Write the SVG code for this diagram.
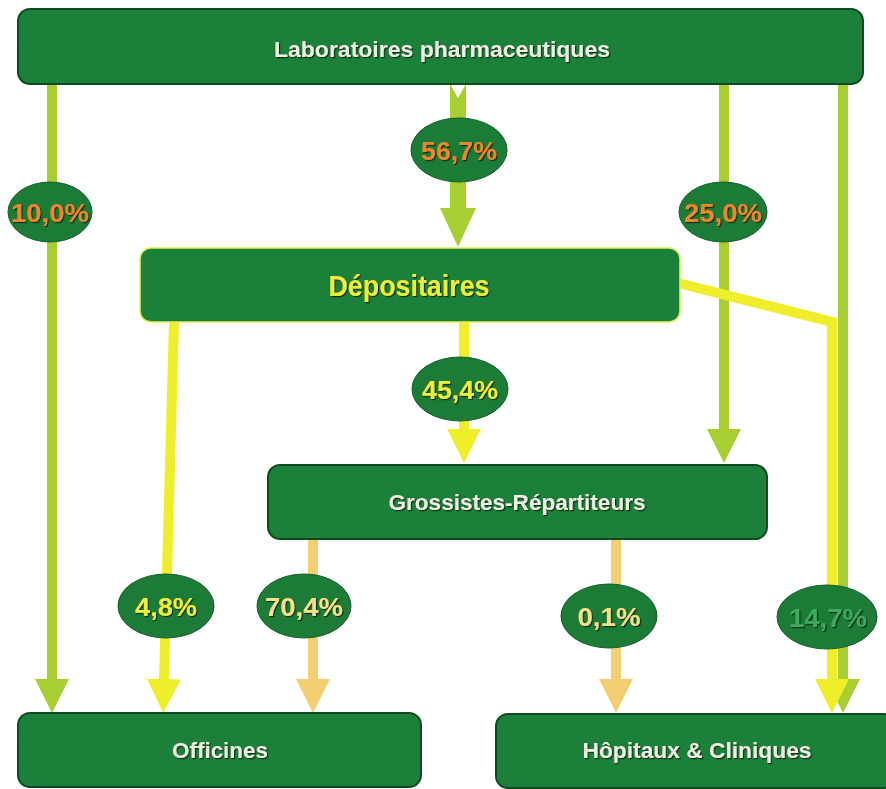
<svg xmlns="http://www.w3.org/2000/svg" width="886" height="789" viewBox="0 0 886 789">
<defs>
<filter id="sh" x="-10%" y="-30%" width="120%" height="160%">
<feDropShadow dx="1.2" dy="1.2" stdDeviation="0.6" flood-color="#0a2a10" flood-opacity="0.9"/>
</filter>
<marker id="ag" viewBox="0 0 34 34" markerWidth="34" markerHeight="34" markerUnits="userSpaceOnUse" refX="1" refY="17" orient="auto"><path d="M0,0 L34,17 L0,34 z" fill="#a8cf32"/></marker>
<marker id="ay" viewBox="0 0 34 34" markerWidth="34" markerHeight="34" markerUnits="userSpaceOnUse" refX="1" refY="17" orient="auto"><path d="M0,0 L34,17 L0,34 z" fill="#eeee2a"/></marker>
<marker id="ap" viewBox="0 0 34 34" markerWidth="34" markerHeight="34" markerUnits="userSpaceOnUse" refX="1" refY="17" orient="auto"><path d="M0,0 L34,17 L0,34 z" fill="#f4cf72"/></marker>
</defs>
<style>
.box{fill:#1b8039;stroke:#0e4a1f;stroke-width:2}
.dep{fill:#1b8039;stroke:#e4ee5a;stroke-width:1.6}
.lbl{fill:#1b7b37;stroke:#146129;stroke-width:1}
.t{font-family:"Liberation Sans Narrow","Liberation Sans",Arial,sans-serif;font-weight:bold;text-anchor:middle;filter:url(#sh)}
.tw{fill:#eef0e4;font-size:22px}
.pc{font-size:26px}
.or{fill:#f0862a}
.ye{fill:#eeee3a}
.pe{fill:#f6e08a}
.gr{fill:#3fa95e}
.lg{stroke:#a8cf32;stroke-width:10;fill:none}
.ly{stroke:#eeee2a;stroke-width:10;fill:none}
.lp{stroke:#f4cf72;stroke-width:10;fill:none}
</style>
<g id="connectors">
<line class="lg" x1="52" y1="84" x2="52" y2="680" marker-end="url(#ag)"/>
<polygon points="450,84 458,98 466,84 466,208 476,208 458,247 440,208 450,208" fill="#a8cf32"/>
<line class="lg" x1="724" y1="84" x2="724" y2="430" marker-end="url(#ag)"/>
<line class="lg" x1="843" y1="84" x2="843" y2="680" marker-end="url(#ag)"/>
<line class="ly" x1="464" y1="322" x2="464" y2="430" marker-end="url(#ay)"/>
<polyline class="ly" points="678,283 832,322 832,680" marker-end="url(#ay)"/>
<line class="ly" x1="174" y1="322" x2="164" y2="680" marker-end="url(#ay)"/>
<line class="lp" x1="313" y1="539" x2="313" y2="680" marker-end="url(#ap)"/>
<line class="lp" x1="616" y1="539" x2="616" y2="680" marker-end="url(#ap)"/>
<g id="label-567"><ellipse class="lbl" cx="459" cy="150" rx="48" ry="32"/><text class="t pc or" x="459" y="160" textLength="76" lengthAdjust="spacingAndGlyphs">56,7%</text></g>
<g id="label-100"><ellipse class="lbl" cx="50" cy="212" rx="42" ry="30"/><text class="t pc or" x="50" y="222" textLength="78" lengthAdjust="spacingAndGlyphs">10,0%</text></g>
<g id="label-250"><ellipse class="lbl" cx="723" cy="212" rx="44" ry="30"/><text class="t pc or" x="723" y="222" textLength="78" lengthAdjust="spacingAndGlyphs">25,0%</text></g>
<g id="label-454"><ellipse class="lbl" cx="460" cy="389" rx="48" ry="32"/><text class="t pc ye" x="460" y="399" textLength="76" lengthAdjust="spacingAndGlyphs">45,4%</text></g>
<g id="label-48"><ellipse class="lbl" cx="166" cy="606" rx="48" ry="32"/><text class="t pc ye" x="166" y="616" textLength="62" lengthAdjust="spacingAndGlyphs">4,8%</text></g>
<g id="label-704"><ellipse class="lbl" cx="304" cy="606" rx="47" ry="32"/><text class="t pc pe" x="304" y="616" textLength="78" lengthAdjust="spacingAndGlyphs">70,4%</text></g>
<g id="label-01"><ellipse class="lbl" cx="609" cy="616" rx="48" ry="32"/><text class="t pc pe" x="609" y="626" textLength="63" lengthAdjust="spacingAndGlyphs">0,1%</text></g>
<g id="label-147"><ellipse class="lbl" cx="827" cy="617" rx="50" ry="32"/><text class="t pc gr" x="828" y="627" textLength="78" lengthAdjust="spacingAndGlyphs">14,7%</text></g>
</g>
<g id="laboratoires"><rect class="box" x="18" y="9" width="845" height="75" rx="12"/><text class="t tw" x="442" y="57" textLength="336" lengthAdjust="spacingAndGlyphs">Laboratoires pharmaceutiques</text></g>
<g id="depositaires"><rect class="dep" x="140" y="248" width="540" height="74" rx="11"/><text class="t ye" x="409" y="296" font-size="29" textLength="161" lengthAdjust="spacingAndGlyphs">Dépositaires</text></g>
<g id="grossistes"><rect class="box" x="268" y="465" width="499" height="74" rx="12"/><text class="t tw" x="517" y="510" textLength="257" lengthAdjust="spacingAndGlyphs">Grossistes-Répartiteurs</text></g>
<g id="officines"><rect class="box" x="18" y="713" width="403" height="74" rx="12"/><text class="t tw" x="220" y="758" textLength="96" lengthAdjust="spacingAndGlyphs">Officines</text></g>
<g id="hopitaux"><rect class="box" x="496" y="714" width="400" height="74" rx="12"/><text class="t tw" x="697" y="758" textLength="229" lengthAdjust="spacingAndGlyphs">Hôpitaux &amp; Cliniques</text></g>
</svg>
